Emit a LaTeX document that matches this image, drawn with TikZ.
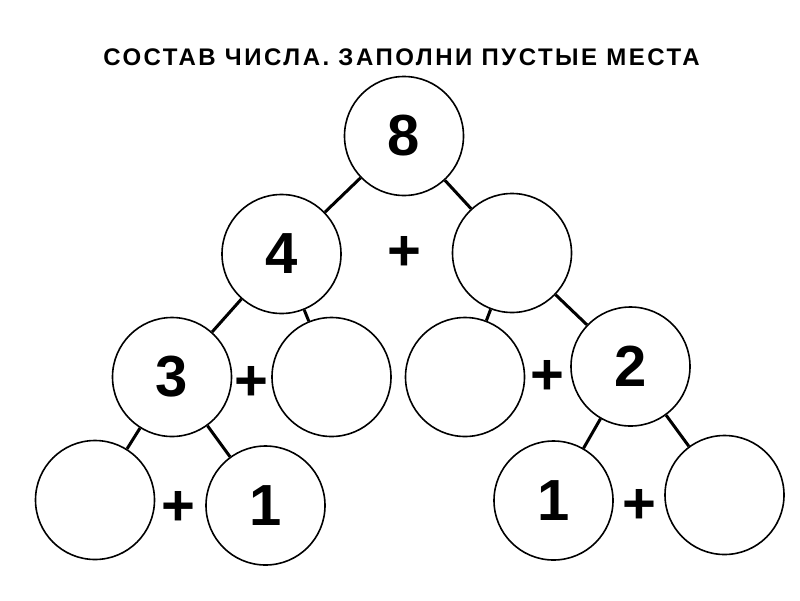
\documentclass[tikz,border=0pt]{standalone}
\usepackage{fontspec}
\setmainfont{Liberation Sans}
\usepackage{tikz}

\tikzset{
  ball/.style = {draw, circle, line width = 1.6pt, minimum size = 119pt, inner sep = 0pt,
                 font = \fontsize{58}{58}\selectfont\bfseries},
  sign/.style = {inner sep = 0pt, font = \fontsize{58}{58}\selectfont\bfseries},
  link/.style = {line width = 3pt}
}

\begin{document}
\begin{tikzpicture}[x = 1pt, y = -1pt]
			\useasboundingbox (0,0) rectangle (800,600);
			
			\node (title) at (401.5,57.5) {\fontsize{24}{24}\selectfont\bfseries\addfontfeature{LetterSpace=10.5}СОСТАВ ЧИСЛА. ЗАПОЛНИ ПУСТЫЕ МЕСТА};
			
			% top
			\node [ball] (eight) at (404,136) {8};
			
			% second row
			\node [ball] (four) at (281.5,254) {4};
			\node [ball] (upR) at (512,253) {};
			\node [sign] (plusA) at (404,253) {+};
			
			% third row
			\node [ball] (three) at (172,377) {3};
			\node [ball] (midL) at (331.5,377) {};
			\node [ball] (midR) at (465,377) {};
			\node [ball] (two) at (630.5,366.5) {2};
			\node [sign] (plusB) at (251,383) {+};
			\node [sign] (plusC) at (547,377) {+};
			
			% bottom row
			\node [ball] (lowL) at (95,500) {};
			\node [ball] (oneL) at (265.5,505.5) {1};
			\node [ball] (oneR) at (553.5,500.5) {1};
			\node [ball] (lowR) at (724.5,495) {};
			\node [sign] (plusD) at (178,508) {+};
			\node [sign] (plusE) at (639,506) {+};
			
			\begin{scope}[link]
			\draw (eight) -- (four);
			\draw (eight) -- (upR);
			\draw (four) -- (three);
			\draw (four) -- (midL);
			\draw (upR) -- (midR);
			\draw (upR) -- (two);
			\draw (three) -- (lowL);
			\draw (three) -- (oneL);
			\draw (two) -- (oneR);
			\draw (two) -- (lowR);
			\end{scope}
		\end{tikzpicture}
\end{document}
